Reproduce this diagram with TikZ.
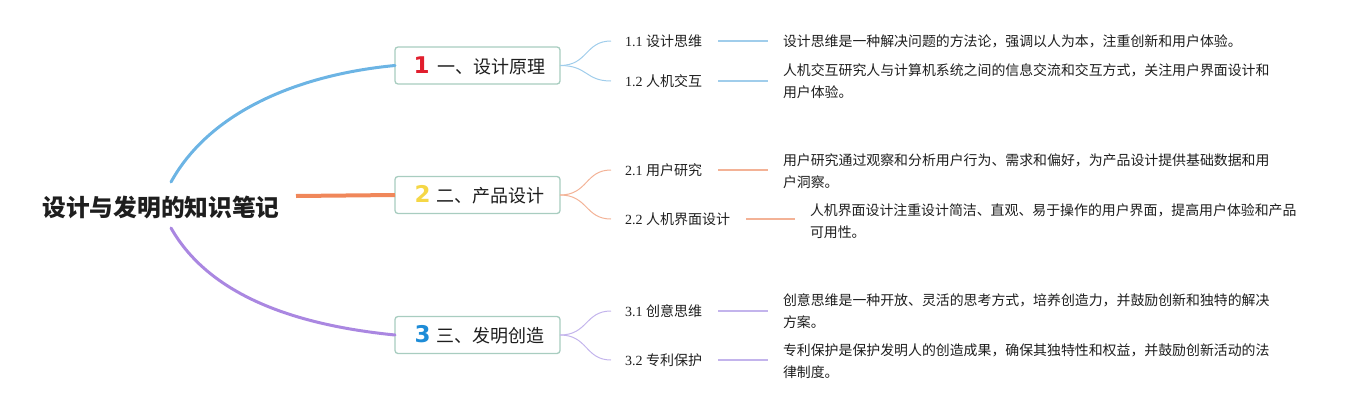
\documentclass[tikz,border=0pt]{standalone}
\usepackage{fontspec}
\setmainfont{Liberation Serif}
\newfontfamily\cjk{Noto Sans CJK SC}
\newfontfamily\digitfont{DejaVu Sans}
\definecolor{bblue}{RGB}{108,180,228}
\definecolor{borange}{RGB}{240,135,90}
\definecolor{bpurple}{RGB}{170,135,225}
\definecolor{lblue}{RGB}{160,205,235}
\definecolor{lorange}{RGB}{243,178,150}
\definecolor{lpurple}{RGB}{195,180,236}
\definecolor{boxc}{RGB}{168,205,192}
\definecolor{dred}{RGB}{225,30,45}
\definecolor{dyellow}{RGB}{245,215,70}
\definecolor{dblue}{RGB}{30,140,215}
\definecolor{txt}{RGB}{30,30,30}
\begin{document}
\begin{tikzpicture}[x=1pt,y=-1pt,
  every node/.style={inner sep=0pt,outer sep=0pt,text=txt},
  topic/.style={draw=boxc,line width=1.3pt,rounded corners=3pt,fill=white,
    minimum width=165pt,minimum height=37pt},
  subtopic/.style={inner xsep=14pt,font=\fontsize{14}{16}\selectfont},
  desc/.style={anchor=west,inner xsep=15pt,align=left,font=\cjk\fontsize{13.9}{21.5}\selectfont},
  trunk/.style={line width=3pt,line cap=round},
  twig/.style={line width=1pt},
  stub/.style={line width=1.6pt},
  numb/.style={font=\digitfont\bfseries\fontsize{23}{26}\selectfont}]
\useasboundingbox (0,0) rectangle (1370,410);

% root
\node[font=\cjk\bfseries\fontsize{23.7}{28}\selectfont] (root) at (161,207) {设计与发明的知识笔记};
\coordinate (r1) at (171,182);
\coordinate (r2) at (296,196);
\coordinate (r3) at (171,228);

% topics
\node[topic] (t1) at (477.5,65.5) {\hspace{4pt}{\digitfont\bfseries\fontsize{23}{26}\selectfont\color{dred}1}\hspace{8pt}{\cjk\fontsize{18}{20}\selectfont 一、设计原理}};
\node[topic] (t2) at (477.5,195) {\hspace{4pt}{\digitfont\bfseries\fontsize{23}{26}\selectfont\color{dyellow}2}\hspace{6pt}{\cjk\fontsize{18}{20}\selectfont 二、产品设计}};
\node[topic] (t3) at (477.5,335) {\hspace{4pt}{\digitfont\bfseries\fontsize{23}{26}\selectfont\color{dblue}3}\hspace{6pt}{\cjk\fontsize{18}{20}\selectfont 三、发明创造}};

\draw[trunk,bblue] (r1) .. controls (212,108) and (305,74) .. (t1.west);
\draw[trunk,borange,line width=4pt,line cap=butt] (r2) -- (t2.west);
\draw[trunk,bpurple] (r3) .. controls (212,300) and (305,326) .. (t3.west);

% subtopics
\node[subtopic,anchor=west] (s11) at (611,41) {1.1 {\cjk 设计思维}};
\node[subtopic,anchor=west] (s12) at (611,81) {1.2 {\cjk 人机交互}};
\node[subtopic,anchor=west] (s21) at (611,170) {2.1 {\cjk 用户研究}};
\node[subtopic,anchor=west] (s22) at (611,219) {2.2 {\cjk 人机界面设计}};
\node[subtopic,anchor=west] (s31) at (611,311) {3.1 {\cjk 创意思维}};
\node[subtopic,anchor=west] (s32) at (611,360) {3.2 {\cjk 专利保护}};

\draw[twig,lblue] (t1.east) .. controls +(28,0) and +(-26,0) .. (s11.west);
\draw[twig,lblue] (t1.east) .. controls +(28,0) and +(-26,0) .. (s12.west);
\draw[twig,lorange] (t2.east) .. controls +(28,0) and +(-26,0) .. (s21.west);
\draw[twig,lorange] (t2.east) .. controls +(28,0) and +(-26,0) .. (s22.west);
\draw[twig,lpurple] (t3.east) .. controls +(28,0) and +(-26,0) .. (s31.west);
\draw[twig,lpurple] (t3.east) .. controls +(28,0) and +(-26,0) .. (s32.west);

% descriptions
\node[desc] (d11) at (768,41) {设计思维是一种解决问题的方法论，强调以人为本，注重创新和用户体验。};
\node[desc] (d12) at (768,81) {人机交互研究人与计算机系统之间的信息交流和交互方式，关注用户界面设计和\\用户体验。};
\node[desc] (d21) at (768,171) {用户研究通过观察和分析用户行为、需求和偏好，为产品设计提供基础数据和用\\户洞察。};
\node[desc] (d22) at (795,221) {人机界面设计注重设计简洁、直观、易于操作的用户界面，提高用户体验和产品\\可用性。};
\node[desc] (d31) at (768,311) {创意思维是一种开放、灵活的思考方式，培养创造力，并鼓励创新和独特的解决\\方案。};
\node[desc] (d32) at (768,361) {专利保护是保护发明人的创造成果，确保其独特性和权益，并鼓励创新活动的法\\律制度。};

\draw[stub,lblue] ([xshift=2pt]s11.east) -- (d11.west |- s11.east);
\draw[stub,lblue] ([xshift=2pt]s12.east) -- (d12.west |- s12.east);
\draw[stub,lorange] ([xshift=2pt]s21.east) -- (d21.west |- s21.east);
\draw[stub,lorange] ([xshift=2pt]s22.east) -- (d22.west |- s22.east);
\draw[stub,lpurple] ([xshift=2pt]s31.east) -- (d31.west |- s31.east);
\draw[stub,lpurple] ([xshift=2pt]s32.east) -- (d32.west |- s32.east);
\end{tikzpicture}
\end{document}
